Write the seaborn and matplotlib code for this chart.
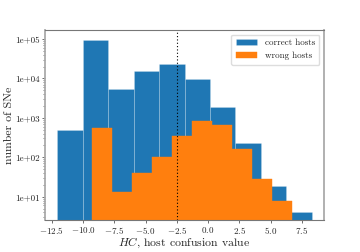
import numpy as np
import pandas as pd
import matplotlib
matplotlib.use("Agg")
import matplotlib.pyplot as plt
import seaborn as sns
from matplotlib.ticker import FuncFormatter, LogLocator

# bin edges and counts
correct_edges = [-12.06, -10.02, -7.99, -5.95, -3.92, -1.88, 0.16, 2.19, 4.23, 6.26, 8.30]
correct_counts = [480, 95000, 5300, 15400, 22800, 9650, 1900, 233, 19, 4]
wrong_edges = [-9.28, -7.68, -6.08, -4.49, -2.89, -1.29, 0.31, 1.91, 3.50, 5.10, 6.70]
wrong_counts = [560, 13, 41, 100, 350, 815, 656, 158, 28, 8]
threshold = -2.5

sns.set_style("white")
plt.rcParams["font.family"] = "serif"
plt.rcParams["font.serif"] = ["cmr10", "DejaVu Serif"]
plt.rcParams["mathtext.fontset"] = "cm"
plt.rcParams["axes.unicode_minus"] = False
plt.rcParams["axes.formatter.use_mathtext"] = True

df_c = pd.DataFrame({"x": correct_edges[:-1], "n": correct_counts})
df_w = pd.DataFrame({"x": wrong_edges[:-1], "n": wrong_counts})

fig, ax = plt.subplots(figsize=(3.6, 2.52), dpi=100)
fig.subplots_adjust(left=0.125, right=0.9, bottom=0.127, top=0.881)

sns.histplot(data=df_c, x="x", weights="n", bins=correct_edges, ax=ax,
             color="#1f77b4", alpha=1, edgecolor=(1, 1, 1, 0.25), linewidth=0.5,
             label="correct hosts")
sns.histplot(data=df_w, x="x", weights="n", bins=wrong_edges, ax=ax,
             color="#ff7f0e", alpha=1, edgecolor="#ff7f0e", linewidth=0.3,
             label="wrong hosts")

ax.axvline(threshold, color="black", linestyle=(0, (1, 2)), linewidth=0.8)

ax.set_yscale("log")
ax.set_ylim(2.57, 1.69e5)
ax.set_xlim(-13.04, 9.28)
ax.set_xticks(np.arange(-12.5, 8.0, 2.5))
ax.yaxis.set_major_formatter(FuncFormatter(lambda v, p: f"{v:.0e}"))
ax.yaxis.set_minor_locator(LogLocator(subs=np.arange(2, 10)))
ax.tick_params(axis="both", which="major", labelsize=6.5, length=2, width=0.6,
               color="#555555", direction="out", left=True, bottom=True, pad=1.5)
ax.tick_params(axis="y", which="minor", length=1.5, width=0.5, color="#555555", left=True)

for side, s in ax.spines.items():
    s.set_color("#777777")
    s.set_linewidth(0.8)
ax.spines["left"].set_color("#aaaaaa")
ax.spines["right"].set_color("#aaaaaa")
ax.spines["left"].set_linewidth(1.3)
ax.spines["right"].set_linewidth(1.3)

ax.set_xlabel(r"$HC$, host confusion value", fontsize=8.5, labelpad=0)
ax.set_ylabel("number of SNe", fontsize=8.5, labelpad=1)
ax.legend(loc="upper right", fontsize=6.5, handlelength=2.4, handleheight=0.7,
          borderpad=0.5, labelspacing=0.5, framealpha=1, edgecolor="#dddddd")

fig.savefig("out.png", dpi=100)
